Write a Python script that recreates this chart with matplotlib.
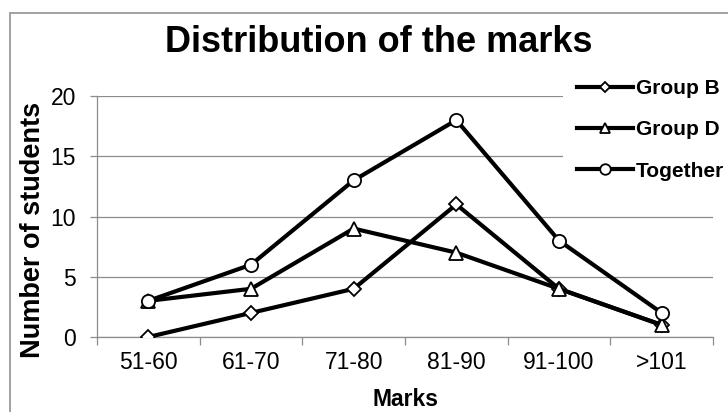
import matplotlib
matplotlib.use("Agg")
import matplotlib.pyplot as plt
from matplotlib.patches import Rectangle

# Data
categories = ["51-60", "61-70", "71-80", "81-90", "91-100", ">101"]
group_b = [0, 2, 4, 11, 4, 1]
group_d = [3, 4, 9, 7, 4, 1]
together = [3, 6, 13, 18, 8, 2]
y_ticks = [0, 5, 10, 15, 20]

plt.rcParams["font.family"] = ["Liberation Sans", "DejaVu Sans"]

W, H = 728, 412
fig = plt.figure(figsize=(W / 100, H / 100), dpi=100)
fig.patch.set_facecolor("white")

def fx(px):
    return px / W

def fy(py):
    return (H - py) / H

# chart border (runs off the right and bottom edges)
fig.patches.append(Rectangle((fx(9.5), fy(500)), 1.2, fy(13) - fy(500),
                             transform=fig.transFigure, fill=False,
                             edgecolor="#9a9a9a", linewidth=1.3))

ax = fig.add_axes([fx(97), fy(337), fx(713) - fx(97), fy(96) - fy(337)])
ax.set_facecolor("white")

x = list(range(len(categories)))
line_kw = dict(color="black", linewidth=3.0, markerfacecolor="white",
               markeredgecolor="black", markeredgewidth=1.3, zorder=3)
ax.plot(x, group_b, marker="D", markersize=7, label="Group B", **line_kw)
ax.plot(x, group_d, marker="^", markersize=9.5, label="Group D", **line_kw)
ax.plot(x, together, marker="o", markersize=9.5, label="Together", **line_kw)

ax.set_xlim(-0.5, len(categories) - 0.5)
ax.set_ylim(0, 20)
ax.set_yticks(y_ticks)
ax.set_xticks(x)
ax.set_xticklabels(categories)
ax.set_xticks([i - 0.5 for i in range(len(categories) + 1)], minor=True)

grid_c = "#8c8c8c"
ax.yaxis.grid(True, color=grid_c, linewidth=0.9, zorder=0)
ax.set_axisbelow(True)
for s in ("top", "right"):
    ax.spines[s].set_visible(False)
for s in ("left", "bottom"):
    ax.spines[s].set_color(grid_c)
    ax.spines[s].set_linewidth(0.9)

ax.tick_params(axis="x", which="major", length=0, pad=10, labelsize=16.5,
               labelcolor="black")
ax.tick_params(axis="x", which="minor", length=6, width=0.9, color=grid_c,
               direction="out")
ax.tick_params(axis="y", length=5, width=0.9, color=grid_c, pad=10,
               labelsize=16.5, labelcolor="black")

# titles
fig.text(fx(378.5), fy(52), "Distribution of the marks", ha="center",
         va="baseline", fontsize=26, fontweight="bold")
fig.text(fx(33), fy(230), "Number of students", ha="center", va="center",
         rotation=90, fontsize=19.5, fontweight="bold")
fig.text(fx(405), fy(399), "Marks", ha="center", va="center",
         fontsize=16.5, fontweight="bold")

leg = ax.legend(loc="upper left", bbox_to_anchor=(fx(563), fy(65)),
                bbox_transform=fig.transFigure, borderaxespad=0,
                borderpad=0.67, handlelength=2.7, handletextpad=0.12,
                labelspacing=1.07, markerscale=0.8, frameon=True,
                fancybox=False, prop={"size": 15, "weight": "bold"})
leg.get_frame().set_facecolor("white")
leg.get_frame().set_edgecolor("none")
leg.get_frame().set_alpha(1)

fig.savefig("out.png", dpi=100, facecolor="white")
